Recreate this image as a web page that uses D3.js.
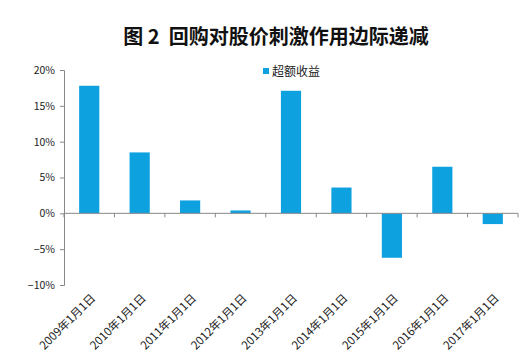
<!DOCTYPE html>
<html>
<head>
<meta charset="utf-8">
<title>图2 回购对股价刺激作用边际递减</title>
<script src="https://cdn.jsdelivr.net/npm/d3@7/dist/d3.min.js"></script>
<style>
  body { margin: 0; background: #fff; }
  text { font-family: "Microsoft YaHei", "Noto Sans CJK SC", sans-serif; }
</style>
</head>
<body>
<div id="chart"></div>
<script>
var width = 523, height = 363;

// data
var categories = ["2009年1月1日", "2010年1月1日", "2011年1月1日", "2012年1月1日", "2013年1月1日",
                  "2014年1月1日", "2015年1月1日", "2016年1月1日", "2017年1月1日"];
var excessReturn = [0.178, 0.085, 0.018, 0.004, 0.171, 0.036, -0.062, 0.065, -0.015];
var yTicks = [-0.10, -0.05, 0, 0.05, 0.10, 0.15, 0.20];
var seriesName = "超额收益";
var title = "图 2  回购对股价刺激作用边际递减";

// plot area (note: "top" is reserved on window, so use other names)
var plotLeft = 64, plotRight = 518, plotTop = 70, plotBottom = 285;

var svg = d3.select("#chart").append("svg")
  .attr("width", width)
  .attr("height", height);

var x = d3.scaleBand().domain(categories).range([plotLeft, plotRight]).paddingInner(0.6).paddingOuter(0.3);
var xb = d3.scaleBand().domain(categories).range([plotLeft, plotRight]);
var y = d3.scaleLinear().domain([-0.10, 0.20]).range([plotBottom, plotTop]);

// title
svg.append("text")
  .attr("x", 276).attr("y", 44)
  .attr("text-anchor", "middle")
  .attr("xml:space", "preserve")
  .style("white-space", "pre")
  .style("font-size", "20px")
  .style("font-weight", "bold")
  .style("fill", "#111")
  .text(title);

// y axis
var yAxis = d3.axisLeft(y).tickValues(yTicks).tickSize(4).tickFormat(d3.format(".0%"));
var gy = svg.append("g").attr("transform", "translate(" + plotLeft + ",0)").call(yAxis);
gy.select(".domain").attr("stroke", "#888");
gy.selectAll(".tick line").attr("stroke", "#888");
gy.selectAll(".tick text").style("font-size", "10.5px").style("fill", "#222").attr("x", -9);

// bars
svg.selectAll("rect.bar").data(excessReturn).enter().append("rect")
  .attr("class", "bar")
  .attr("x", function(d, i) { return x(categories[i]); })
  .attr("y", function(d) { return y(Math.max(0, d)); })
  .attr("width", x.bandwidth())
  .attr("height", function(d) { return Math.abs(y(d) - y(0)); })
  .style("fill", "#0ea1df");

// x axis at zero
var gx = svg.append("g").attr("transform", "translate(0," + y(0) + ")");
gx.append("line").attr("x1", plotLeft).attr("x2", plotRight).attr("stroke", "#888");
gx.selectAll("line.tick").data(categories.concat(["end"])).enter().append("line")
  .attr("class", "tick")
  .attr("x1", function(d, i) { return plotLeft + i * xb.bandwidth(); })
  .attr("x2", function(d, i) { return plotLeft + i * xb.bandwidth(); })
  .attr("y1", 0).attr("y2", 4)
  .attr("stroke", "#888");

// category labels at bottom, rotated
svg.selectAll("text.cat").data(categories).enter().append("text")
  .attr("class", "cat")
  .attr("transform", function(d) {
    return "translate(" + (xb(d) + xb.bandwidth() / 2 + 4) + "," + (plotBottom + 11) + ") rotate(-45)";
  })
  .attr("text-anchor", "end")
  .attr("dy", "0.35em")
  .style("font-size", "11.5px")
  .style("fill", "#222")
  .text(function(d) { return d; });

// legend
svg.append("rect").attr("x", 263).attr("y", 68).attr("width", 6).attr("height", 6).style("fill", "#0ea1df");
svg.append("text").attr("x", 272).attr("y", 76)
  .style("font-size", "12px").style("fill", "#222").text(seriesName);
</script>
</body>
</html>
